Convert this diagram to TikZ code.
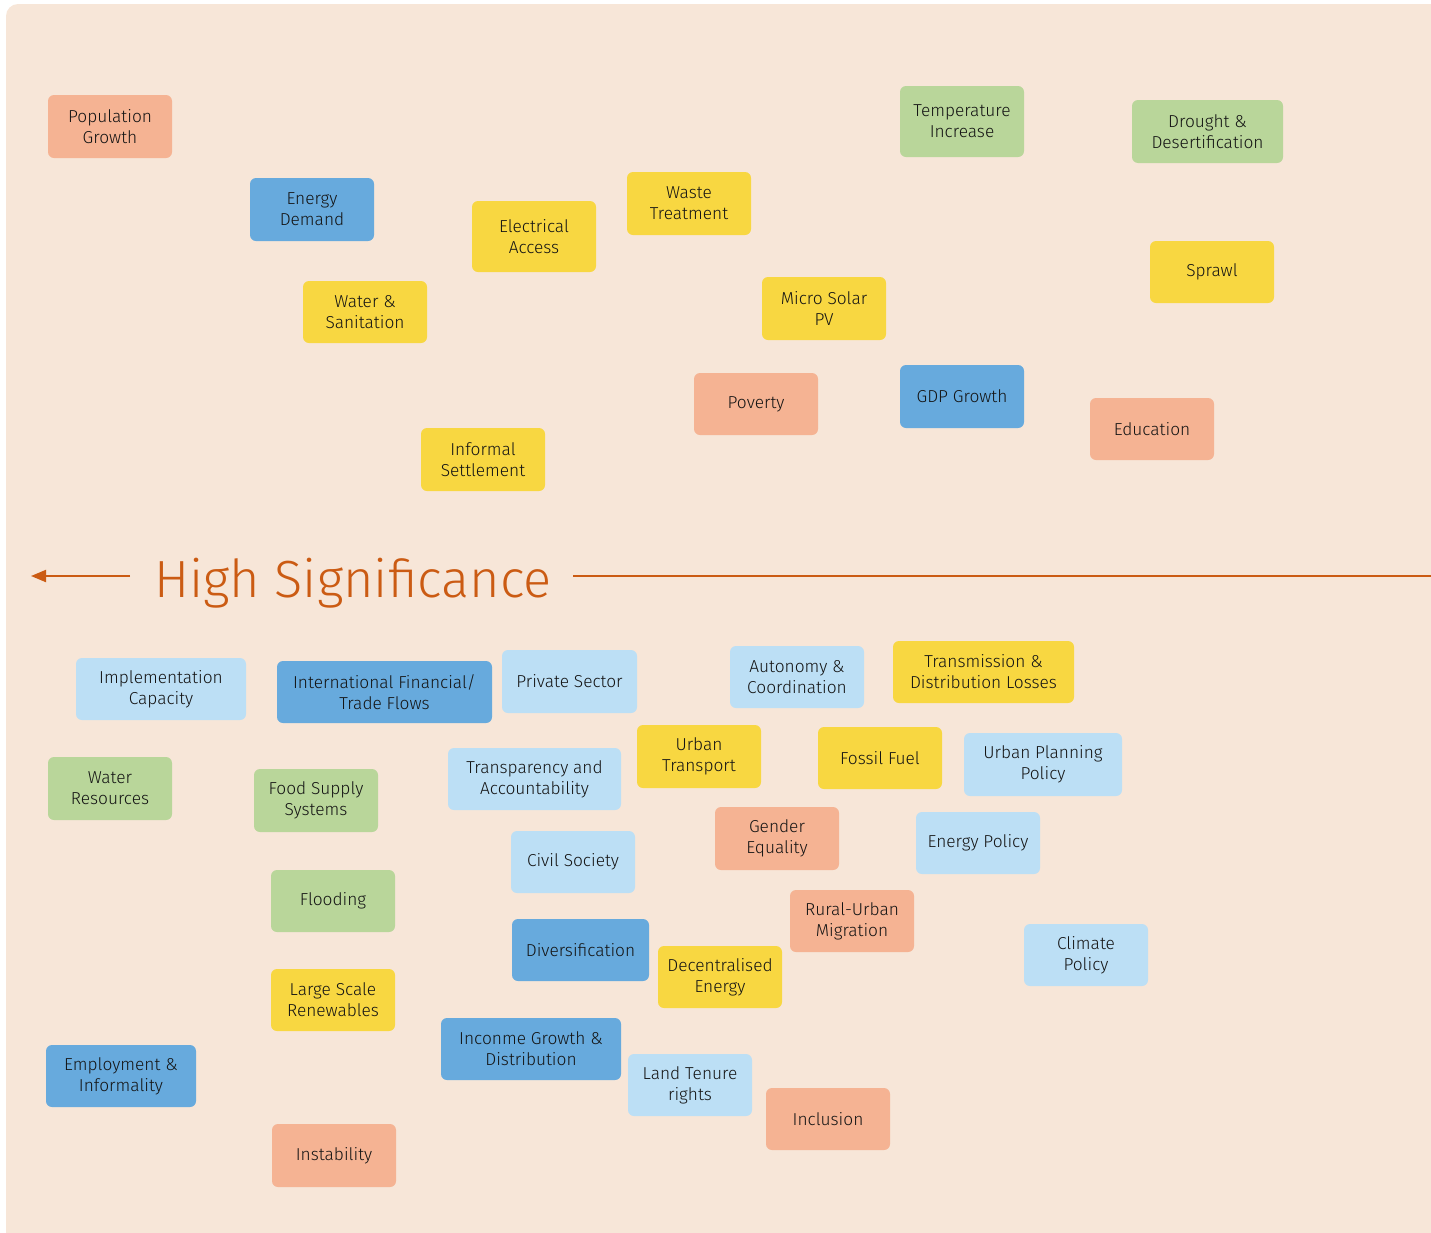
\documentclass[tikz,border=0pt]{standalone}
\usepackage{fontspec}
\setmainfont{Fira Sans Light}
\usetikzlibrary{arrows.meta}
\definecolor{bgc}{HTML}{F7E6D8}
\definecolor{sal}{HTML}{F5B393}
\definecolor{blu}{HTML}{67AADD}
\definecolor{yel}{HTML}{F8D741}
\definecolor{grn}{HTML}{B9D69A}
\definecolor{lbl}{HTML}{BCDFF5}
\definecolor{org}{HTML}{CB5B13}
\definecolor{txt}{HTML}{141414}
\newcommand\bx[7]{\node[box,fill=#2,minimum width={#5-#3},minimum height={#6-#4}] (#1) at ({(#3+#5)/2},{(#4+#6)/2}) {#7};}
\tikzset{
  box/.style={rounded corners=6pt, inner sep=0pt, align=center, text=txt,
    font=\fontsize{17.3}{21}\selectfont},
  axis/.style={draw=org, line width=2.4pt},
}
\begin{document}
\begin{tikzpicture}[x=1pt,y=-1pt]
\useasboundingbox (0,0) rectangle (1431,1232);
\begin{scope}
\clip (0,0) rectangle (1431,1232);
\fill[bgc, rounded corners=12pt] (6,4) rectangle (1460,1260);
\end{scope}
% top half
\bx{pop}{sal}{48}{95}{172}{158}{Population\\Growth}
\bx{ed}{blu}{250}{178}{374}{241}{Energy\\Demand}
\bx{ea}{yel}{472}{201}{596}{272}{Electrical\\Access}
\bx{wt}{yel}{627}{172}{751}{235}{Waste\\Treatment}
\bx{ti}{grn}{900}{86}{1024}{157}{Temperature\\Increase}
\bx{dd}{grn}{1132}{100}{1283}{163}{Drought \&\\Desertification}
\bx{ws}{yel}{303}{281}{427}{343}{Water \&\\Sanitation}
\bx{ms}{yel}{762}{277}{886}{340}{Micro Solar\\PV}
\bx{sp}{yel}{1150}{241}{1274}{303}{Sprawl}
\bx{pov}{sal}{694}{373}{818}{435}{Poverty}
\bx{gdp}{blu}{900}{365}{1024}{428}{GDP Growth}
\bx{edu}{sal}{1090}{398}{1214}{460}{Education}
\bx{is}{yel}{421}{428}{545}{491}{Informal\\Settlement}
% axis
\node[text=org, font=\fontsize{52.3}{52}\selectfont, anchor=base west, inner sep=0pt] (hs) at (154,597) {High Significance};
\coordinate (la) at (130,576);
\coordinate (lb) at (31,576);
\coordinate (ra) at (573,576);
\coordinate (rb) at (1431,576);
\draw[draw=org, line width=2pt, -{Triangle[length=15pt,width=12pt]}] (la) -- (lb);
\draw[axis] (ra) -- (rb);
% bottom half
\bx{ic}{lbl}{76}{658}{246}{720}{Implementation\\Capacity}
\bx{ift}{blu}{277}{661}{492}{723}{International Financial/\\Trade Flows}
\bx{ps}{lbl}{502}{650}{637}{713}{Private Sector}
\bx{ac}{lbl}{730}{646}{864}{708}{Autonomy \&\\Coordination}
\bx{tdl}{yel}{893}{641}{1074}{703}{Transmission \&\\Distribution Losses}
\bx{wr}{grn}{48}{757}{172}{820}{Water\\Resources}
\bx{fss}{grn}{254}{769}{378}{832}{Food Supply\\Systems}
\bx{ta}{lbl}{448}{748}{621}{810}{Transparency and\\Accountability}
\bx{ut}{yel}{637}{725}{761}{788}{Urban\\Transport}
\bx{ff}{yel}{818}{727}{942}{789}{Fossil Fuel}
\bx{upp}{lbl}{964}{733}{1122}{796}{Urban Planning\\Policy}
\bx{ge}{sal}{715}{807}{839}{870}{Gender\\Equality}
\bx{ep}{lbl}{916}{812}{1040}{874}{Energy Policy}
\bx{cs}{lbl}{511}{831}{635}{893}{Civil Society}
\bx{fl}{grn}{271}{870}{395}{932}{Flooding}
\bx{rum}{sal}{790}{890}{914}{952}{Rural-Urban\\Migration}
\bx{div}{blu}{512}{919}{649}{981}{Diversification}
\bx{de}{yel}{658}{946}{782}{1008}{Decentralised\\Energy}
\bx{cp}{lbl}{1024}{924}{1148}{986}{Climate\\Policy}
\bx{lsr}{yel}{271}{969}{395}{1031}{Large Scale\\Renewables}
\bx{igd}{blu}{441}{1018}{621}{1080}{Inconme Growth \&\\Distribution}
\bx{emp}{blu}{46}{1045}{196}{1107}{Employment \&\\Informality}
\bx{ltr}{lbl}{628}{1054}{752}{1116}{Land Tenure\\rights}
\bx{inc}{sal}{766}{1088}{890}{1150}{Inclusion}
\bx{ins}{sal}{272}{1124}{396}{1187}{Instability}
\end{tikzpicture}
\end{document}
